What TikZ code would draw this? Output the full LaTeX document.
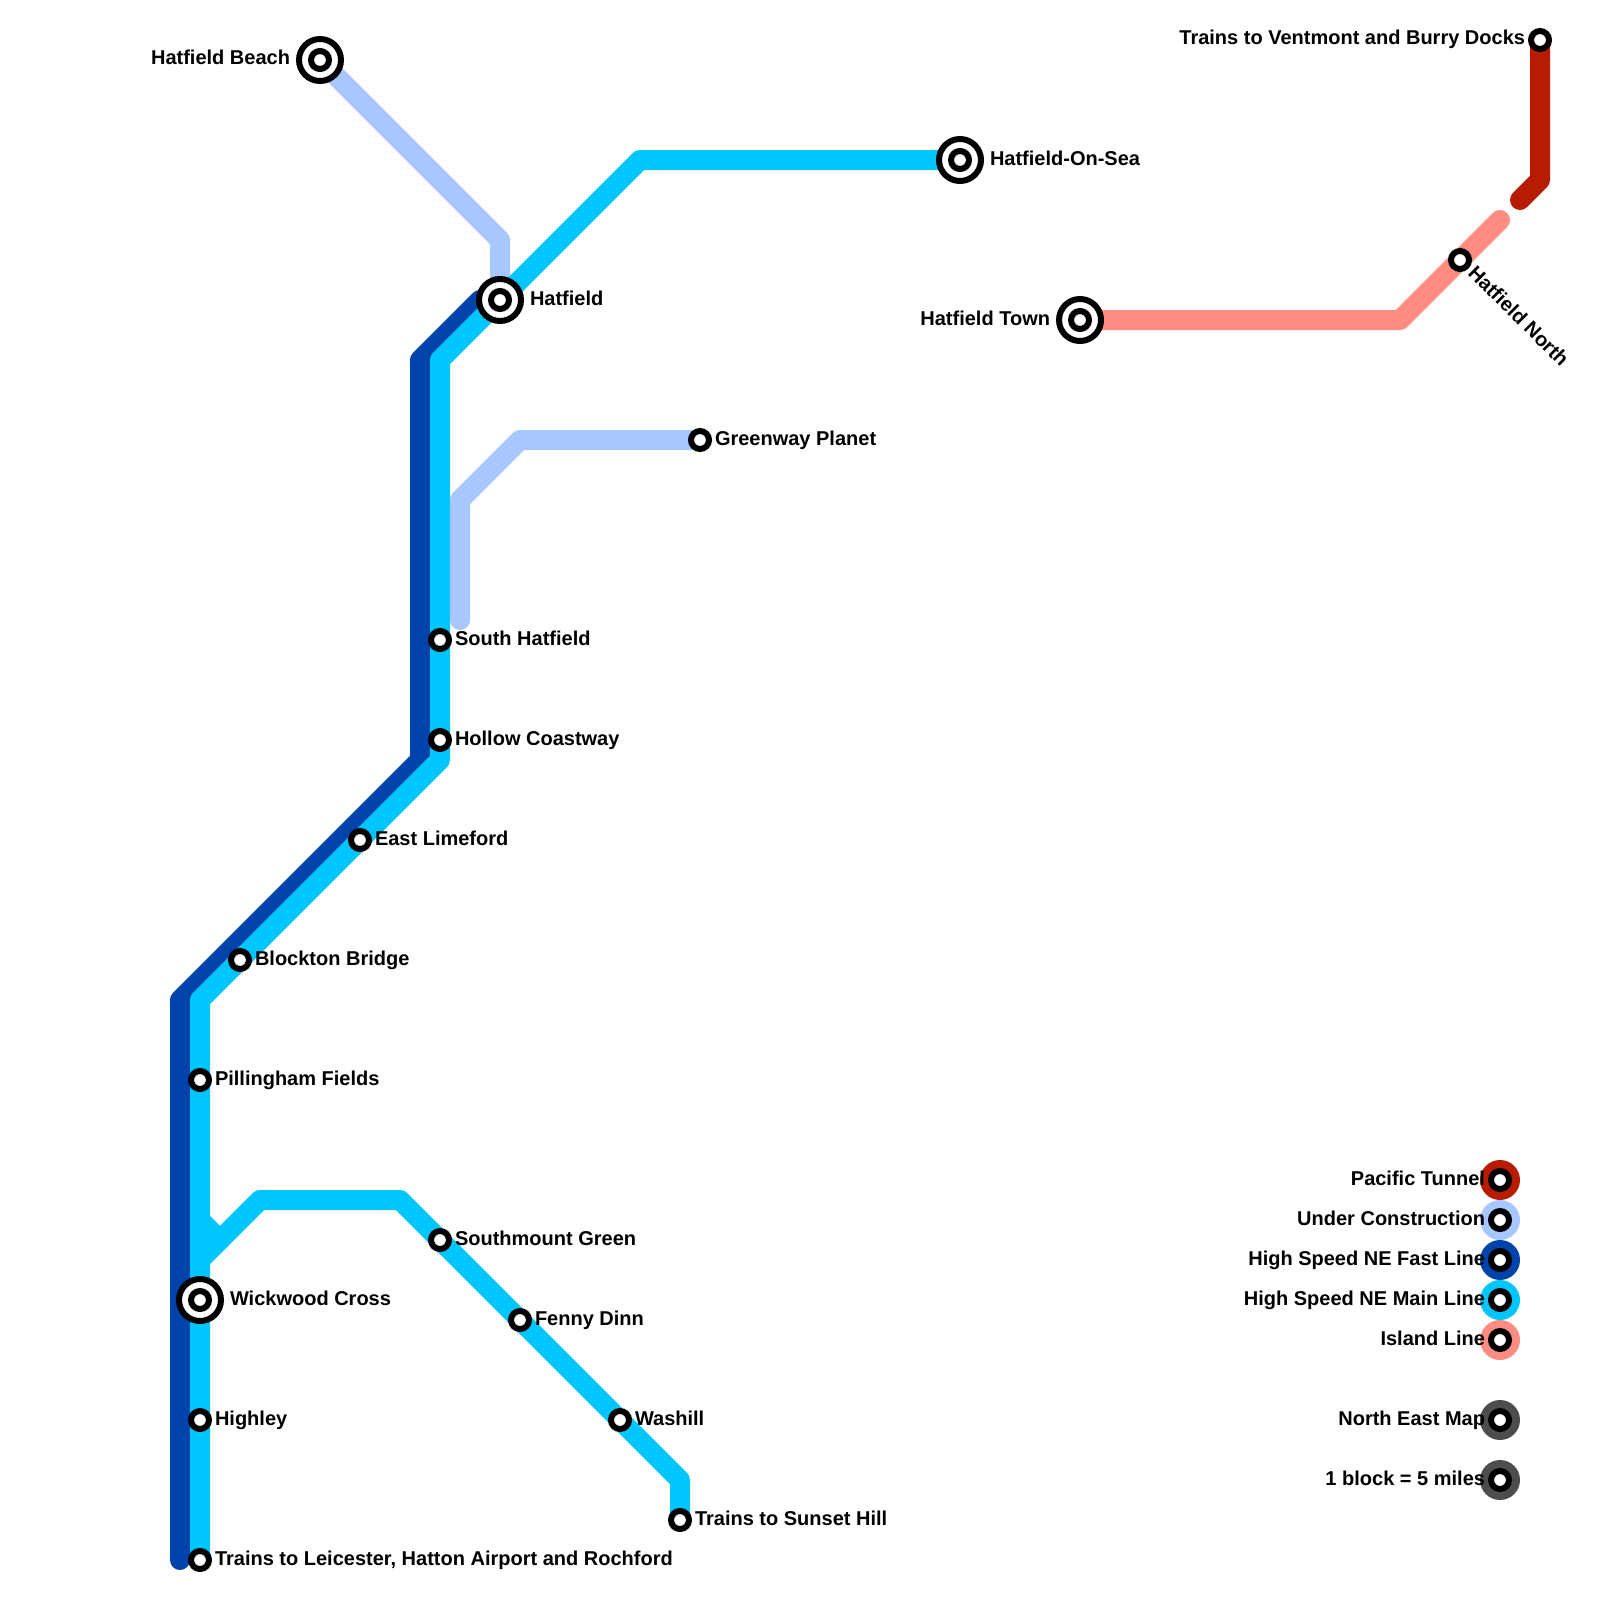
\documentclass[tikz,border=0pt]{standalone}
\usepackage{fontspec}
\setmainfont{Liberation Sans}
\usetikzlibrary{calc,positioning}
\definecolor{tunnelred}{HTML}{B71C00}
\definecolor{buildblue}{HTML}{A8C6FF}
\definecolor{fastblue}{HTML}{0043AB}
\definecolor{mainblue}{HTML}{00C6FF}
\definecolor{islandpink}{HTML}{FF8C82}
\definecolor{keygrey}{HTML}{4D4D4D}
\tikzset{
	metro/.style={line width=20pt, line cap=round, line join=round},
	station/.style={circle, draw=black, fill=white, line width=6pt, minimum size=18pt, inner sep=0pt},
	interchange/.style={circle, draw=black, fill=white, line width=6pt, minimum size=42pt, inner sep=0pt},
	stationlabel/.style={inner sep=0pt, outer sep=0pt, text height=14pt, text depth=4pt, font=\fontsize{20}{22}\selectfont\bfseries},
	keydot/.style={circle, fill=#1, minimum size=40pt, inner sep=0pt}
}
\begin{document}
\begin{tikzpicture}[x=1pt,y=-1pt]
	\useasboundingbox (0,0) rectangle (1600,1600);

	% bends
	\coordinate (fastend) at (180,1560);
	\coordinate (fasta) at (180,1000);
	\coordinate (fastb) at (420,760);
	\coordinate (fastc) at (420,360);
	\coordinate (fastd) at (480,300);
	\coordinate (mainend) at (200,1560);
	\coordinate (maina) at (200,1000);
	\coordinate (mainb) at (440,760);
	\coordinate (mainc) at (440,360);
	\coordinate (maind) at (640,160);
	\coordinate (brancha) at (200,1260);
	\coordinate (branchb) at (260,1200);
	\coordinate (branchc) at (400,1200);
	\coordinate (branchd) at (680,1480);
	\coordinate (stuba) at (200,1220);
	\coordinate (stubb) at (220,1240);
	\coordinate (builda) at (500,240);
	\coordinate (buildb) at (520,440);
	\coordinate (buildc) at (460,500);
	\coordinate (buildd) at (460,620);
	\coordinate (islanda) at (1400,320);
	\coordinate (islandb) at (1500,220);
	\coordinate (tunnela) at (1540,180);
	\coordinate (tunnelb) at (1520,200);

	% stations
	\coordinate (beach) at (320,60);
	\coordinate (sea) at (960,160);
	\coordinate (hatfield) at (500,300);
	\coordinate (town) at (1080,320);
	\coordinate (wickwood) at (200,1300);
	\coordinate (docks) at (1540,40);
	\coordinate (greenway) at (700,440);
	\coordinate (sunset) at (680,1520);

	% lines
	\draw[metro, fastblue] (fastend) -- (fasta) -- (fastb) -- (fastc) -- (fastd);
	\draw[metro, buildblue] (beach) -- (builda) -- (hatfield);
	\draw[metro, buildblue] (greenway) -- (buildb) -- (buildc) -- (buildd);
	\draw[metro, mainblue] (mainend) -- (maina) -- (mainb) -- (mainc) -- (maind) -- (sea);
	\draw[metro, mainblue] (brancha) -- (branchb) -- (branchc) -- (branchd) -- (sunset);
	\draw[metro, mainblue] (stuba) -- (stubb);
	\draw[metro, islandpink] (town) -- (islanda) -- (islandb);
	\draw[metro, tunnelred] (docks) -- (tunnela) -- (tunnelb);

	% interchanges
	\node (beachring) [interchange] at (beach) {};
	\node (beachdot) [station] at (beach) {};
	\node (bealabel) [stationlabel, left=6pt of beachring] {Hatfield Beach};
	\node (searing) [interchange] at (sea) {};
	\node (seadot) [station] at (sea) {};
	\node (sealabel) [stationlabel, right=6pt of searing] {Hatfield-On-Sea};
	\node (hatfieldring) [interchange] at (hatfield) {};
	\node (hatfielddot) [station] at (hatfield) {};
	\node (hatfieldlabel) [stationlabel, right=6pt of hatfieldring] {Hatfield};
	\node (townring) [interchange] at (town) {};
	\node (towndot) [station] at (town) {};
	\node (townlabel) [stationlabel, left=6pt of townring] {Hatfield Town};
	\node (wickring) [interchange] at (wickwood) {};
	\node (wickdot) [station] at (wickwood) {};
	\node (wicklabel) [stationlabel, right=6pt of wickring] {Wickwood Cross};

	% stops
	\node (dockstop) [station] at (docks) {};
	\node (docklabel) [stationlabel, left=3pt of dockstop] {Trains to Ventmont and Burry Docks};
	\node (north) [station] at (1460,260) {};
	\node (northlabel) [stationlabel, rotate=-45, anchor=west] at ($(north) + (10.6,10.6)$) {Hatfield North};
	\node (greenstop) [station] at (greenway) {};
	\node (greenlabel) [stationlabel, right=3pt of greenstop] {Greenway Planet};
	\node (sunstop) [station] at (sunset) {};
	\node (sunlabel) [stationlabel, right=3pt of sunstop] {Trains to Sunset Hill};

	\foreach \name/\xpos/\ypos/\text in {
		southhat/440/640/South Hatfield,
		hollow/440/740/Hollow Coastway,
		limeford/360/840/East Limeford,
		blockton/240/960/Blockton Bridge,
		pilling/200/1080/Pillingham Fields,
		southmount/440/1240/Southmount Green,
		fenny/520/1320/Fenny Dinn,
		highley/200/1420/Highley,
		washill/620/1420/Washill,
		leicester/200/1560/{Trains to Leicester, Hatton Airport and Rochford}
	}{
		\node (\name) [station] at (\xpos,\ypos) {};
		\node (\name label) [stationlabel, right=3pt of \name] {\text};
	}

	% key
	\foreach \name/\ypos/\col/\text in {
		keytunnel/1180/tunnelred/Pacific Tunnel,
		keybuild/1220/buildblue/Under Construction,
		keyfast/1260/fastblue/High Speed NE Fast Line,
		keymain/1300/mainblue/High Speed NE Main Line,
		keyisland/1340/islandpink/Island Line,
		keymap/1420/keygrey/North East Map,
		keyscale/1480/keygrey/1 block = 5 miles
	}{
		\node (\name ring) [keydot=\col] at (1500,\ypos) {};
		\node (\name) [station] at (1500,\ypos) {};
		\node (\name label) [stationlabel, left=3pt of \name] {\text};
	}
\end{tikzpicture}
\end{document}
